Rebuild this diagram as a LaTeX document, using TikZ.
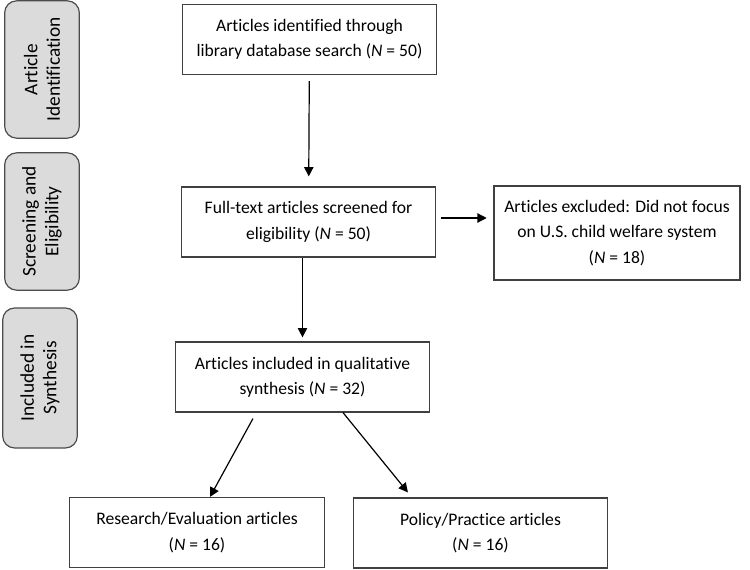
\documentclass[tikz,border=0pt]{standalone}
\usepackage{fontspec}
\setmainfont{Carlito}[Ligatures = NoCommon]
\usetikzlibrary{arrows.meta,positioning}

\begin{document}
\begin{tikzpicture}[x=0.75pt, y=-0.75pt,
  box/.style = {draw = black!75, shape = rectangle, line width = 0.9pt, minimum width = 191pt, minimum height = 52.5pt, align = center, font = \fontsize{13.2}{19}\selectfont},
  stage/.style = {draw = black!70, fill = black!14, shape = rectangle, rounded corners = 9pt, line width = 0.9pt, minimum width = 103pt, minimum height = 56pt, align = center, rotate = 90, font = \fontsize{14.5}{17}\selectfont},
  flow/.style = {-{Triangle[length = 7pt, width = 7pt]}, line width = 0.9pt}]
\useasboundingbox (0,0) rectangle (750,570);

% stages on the left
\node[stage] (identification) at (42,69.5) {Article\\Identification};
\node[stage] (screening) at (42,221.5) {Screening and\\Eligibility};
\node[stage, minimum width = 105pt] (included) at (40,378) {Included in\\Synthesis};

% flow boxes
\node[box] (found) at (309.5,39.5) {Articles identified through\\library database search (\textit{N} = 50)};
\node[box] (screened) at (308.5,222) {Full-text articles screened for\\eligibility (\textit{N} = 50)};
\node[box, minimum width = 184.5pt, minimum height = 70.5pt] (excluded) at (617,233) {Articles excluded: Did not focus\\on U.S. child welfare system\\(\textit{N} = 18)};
\node[box] (synthesis) at (302.5,377) {Articles included in qualitative\\synthesis (\textit{N} = 32)};
\node[box] (research) at (197,532.5) {Research/Evaluation articles\\(\textit{N} = 16)};
\node[box] (policy) at (480.5,533) {Policy/Practice articles\\(\textit{N} = 16)};

% arrows
\draw[flow, shorten <= 4.5pt, shorten >= 7.5pt] (found) -- (screened);
\draw[flow, shorten >= 3pt] (synthesis.north |- screened.south) -- (synthesis.north);
\draw[flow, shorten <= 3.75pt, shorten >= 5pt] ([yshift = 3pt]screened.east) -- ([yshift = 3pt]screened.east -| excluded.west);
\draw[flow, shorten <= 5.1pt] ([xshift = -34.7pt]synthesis.south) -- ([xshift = 9.75pt]research.north);
\draw[flow, shorten >= 4.8pt] ([xshift = 30.4pt]synthesis.south) -- ([xshift = -51.4pt]policy.north);
\end{tikzpicture}
\end{document}
